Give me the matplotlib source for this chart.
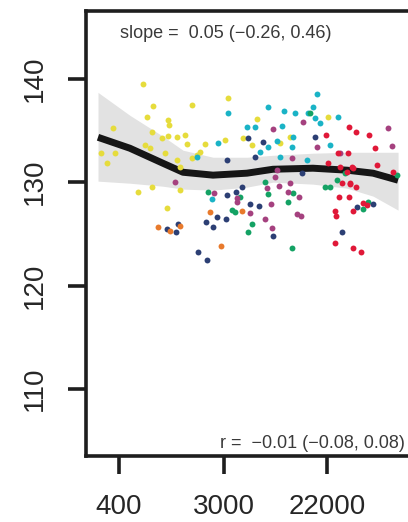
import numpy as np
import matplotlib
matplotlib.use("Agg")
import matplotlib.pyplot as plt

plt.rcParams['font.family'] = ['Liberation Sans', 'DejaVu Sans']

# scatter groups: x (log scale) and y values
yellow_x = [635, 770, 1633, 686, 1028, 1048, 756, 357, 916, 1028, 1222, 1426, 1483, 3266,
            3083, 2099, 1905, 1799, 661, 727, 283, 318, 371, 971, 1222, 1295, 1633, 5188,
            5715, 10789, 22439, 8913, 4365, 577, 756, 1009, 1295]
yellow_y = [139.45, 137.33, 137.43, 136.27, 135.98, 135.50, 134.82, 135.21, 134.24, 134.44,
            134.34, 134.53, 133.66, 138.10, 134.05, 133.66, 132.89, 132.60, 133.57, 133.28,
            132.80, 131.83, 132.80, 132.80, 132.12, 131.45, 132.31, 133.57, 136.08, 134.34,
            136.27, 133.76, 134.24, 129.04, 129.52, 127.49, 129.23]

cyan_x = [3266, 2692, 1799, 4710, 5495, 7063, 9616, 11885, 16788, 18155, 15276, 17458,
          27227, 9247, 6053, 7063, 8395, 11429, 11220, 23335, 19231, 14962, 8913, 2399]
cyan_y = [136.65, 133.76, 132.41, 135.30, 135.30, 137.23, 136.85, 136.65, 137.23, 138.49,
          136.65, 136.17, 136.27, 135.40, 132.89, 133.38, 133.95, 134.34, 133.38, 133.57,
          135.69, 132.12, 132.41, 128.36]

green_x = [15849, 2222, 4111, 3524, 3741, 5188, 4797, 7063, 10375, 11429, 6668, 21184,
           23335, 11220, 44055, 48529, 26669, 31117, 84723]
green_y = [136.65, 129.04, 128.55, 127.30, 127.11, 125.95, 125.18, 128.84, 128.07, 128.94,
           130.00, 129.52, 129.52, 123.64, 127.40, 128.07, 130.19, 130.87, 130.68]

magenta_x = [1177, 7780, 13868, 18155, 71285, 76913, 28249, 11220, 8395, 8091, 2494, 3882,
             3882, 6934, 8730, 10375, 12853, 7482, 4989, 6668, 7638, 12359, 13335, 10789]
magenta_y = [130.00, 135.11, 135.79, 133.38, 135.21, 133.47, 132.80, 132.31, 131.16, 130.48,
             128.94, 128.46, 128.07, 129.42, 129.61, 129.04, 128.55, 127.88, 127.01, 126.43,
             125.56, 126.91, 126.72, 129.90]

navy_x = [3206, 4797, 5495, 6412, 13614, 17458, 4276, 3206, 3811, 4989, 5943, 2138, 2443,
          2642, 3141, 1247, 1200, 1009, 1832, 2179, 7780, 39264, 53456, 29376]
navy_y = [132.12, 134.24, 132.41, 133.86, 130.87, 134.34, 129.52, 128.75, 129.04, 127.88,
          127.69, 126.14, 125.66, 126.62, 126.43, 125.95, 125.18, 125.47, 123.25, 122.48,
          124.79, 127.59, 127.88, 125.18]

orange_x = [848, 1069, 1295, 2307, 4276, 2851]
orange_y = [125.66, 125.27, 125.76, 127.11, 127.20, 123.83]

red_x = [33651, 38459, 49431, 21577, 55463, 27227, 32961, 22439, 28249, 35645, 32359, 36308,
         57677, 78524, 34277, 29376, 34277, 38459, 27733, 33651, 25704, 26182, 36308, 44055,
         47534, 25704, 36308, 42364]
red_y = [135.30, 134.82, 134.53, 134.53, 133.28, 132.80, 132.80, 131.83, 131.45, 131.45,
         130.96, 131.35, 131.64, 130.96, 129.90, 129.90, 129.81, 129.52, 128.55, 128.55,
         127.20, 126.72, 127.20, 127.97, 127.78, 124.12, 123.64, 123.25]

# smooth fit and its confidence band
fit_x = [267, 494, 933, 1373, 2448, 4710, 7780, 16788, 32359, 53456, 86500]
fit_y = [134.34, 133.28, 131.83, 130.96, 130.68, 130.87, 131.25, 131.35, 131.16, 130.87, 130.19]
band_lo = [130.10, 129.90, 129.61, 129.33, 129.23, 129.52, 130.00, 129.81, 129.42, 128.65, 127.30]
band_hi = [138.68, 136.46, 134.44, 133.09, 132.41, 132.41, 132.60, 132.80, 132.89, 132.89, 132.89]

x_ticks = [400, 3000, 22000]
y_ticks = [110, 120, 130, 140]

groups = [
    (yellow_x, yellow_y, '#e6dc3c'),
    (cyan_x, cyan_y, '#1ab3c6'),
    (green_x, green_y, '#14a264'),
    (magenta_x, magenta_y, '#a5417f'),
    (navy_x, navy_y, '#2c3f74'),
    (orange_x, orange_y, '#e87a2c'),
    (red_x, red_y, '#e01838'),
]

fig = plt.figure(figsize=(4.08, 5.22), dpi=100)
ax = fig.add_axes([0.212, 0.1264, 0.798, 0.852])

ax.fill_between(fit_x, band_lo, band_hi, color='#e2e2e2', lw=0, zorder=1)
ax.plot(fit_x, fit_y, color='#161616', lw=5, solid_capstyle='butt', zorder=2)
for gx, gy, col in groups:
    ax.scatter(gx, gy, s=18, color=col, lw=0, zorder=3)

ax.set_xscale('log')
ax.set_xlim(214, 113300)
ax.set_ylim(103.53, 146.52)
ax.set_xticks(x_ticks)
ax.set_xticklabels([str(v) for v in x_ticks])
ax.minorticks_off()
ax.set_yticks(y_ticks)
ax.set_yticklabels([str(v) for v in y_ticks])

for sp in ax.spines.values():
    sp.set_linewidth(2.6)
    sp.set_color('#1e1e1e')

ax.tick_params(axis='both', length=13, width=2.6, color='#1e1e1e',
               labelsize=20, labelcolor='#262626')
ax.tick_params(axis='x', pad=14)
ax.tick_params(axis='y', pad=15, labelrotation=90)
for lab in ax.get_yticklabels():
    lab.set_va('center')

ax.text(0.103, 0.949, 'slope =  0.05 (\u22120.26, 0.46)', transform=ax.transAxes,
        fontsize=13, color='#3a3a3a', ha='left', va='center')
ax.text(0.978, 0.029, 'r =  \u22120.01 (\u22120.08, 0.08)', transform=ax.transAxes,
        fontsize=13, color='#3a3a3a', ha='right', va='center')

fig.savefig('out.png', dpi=100)
